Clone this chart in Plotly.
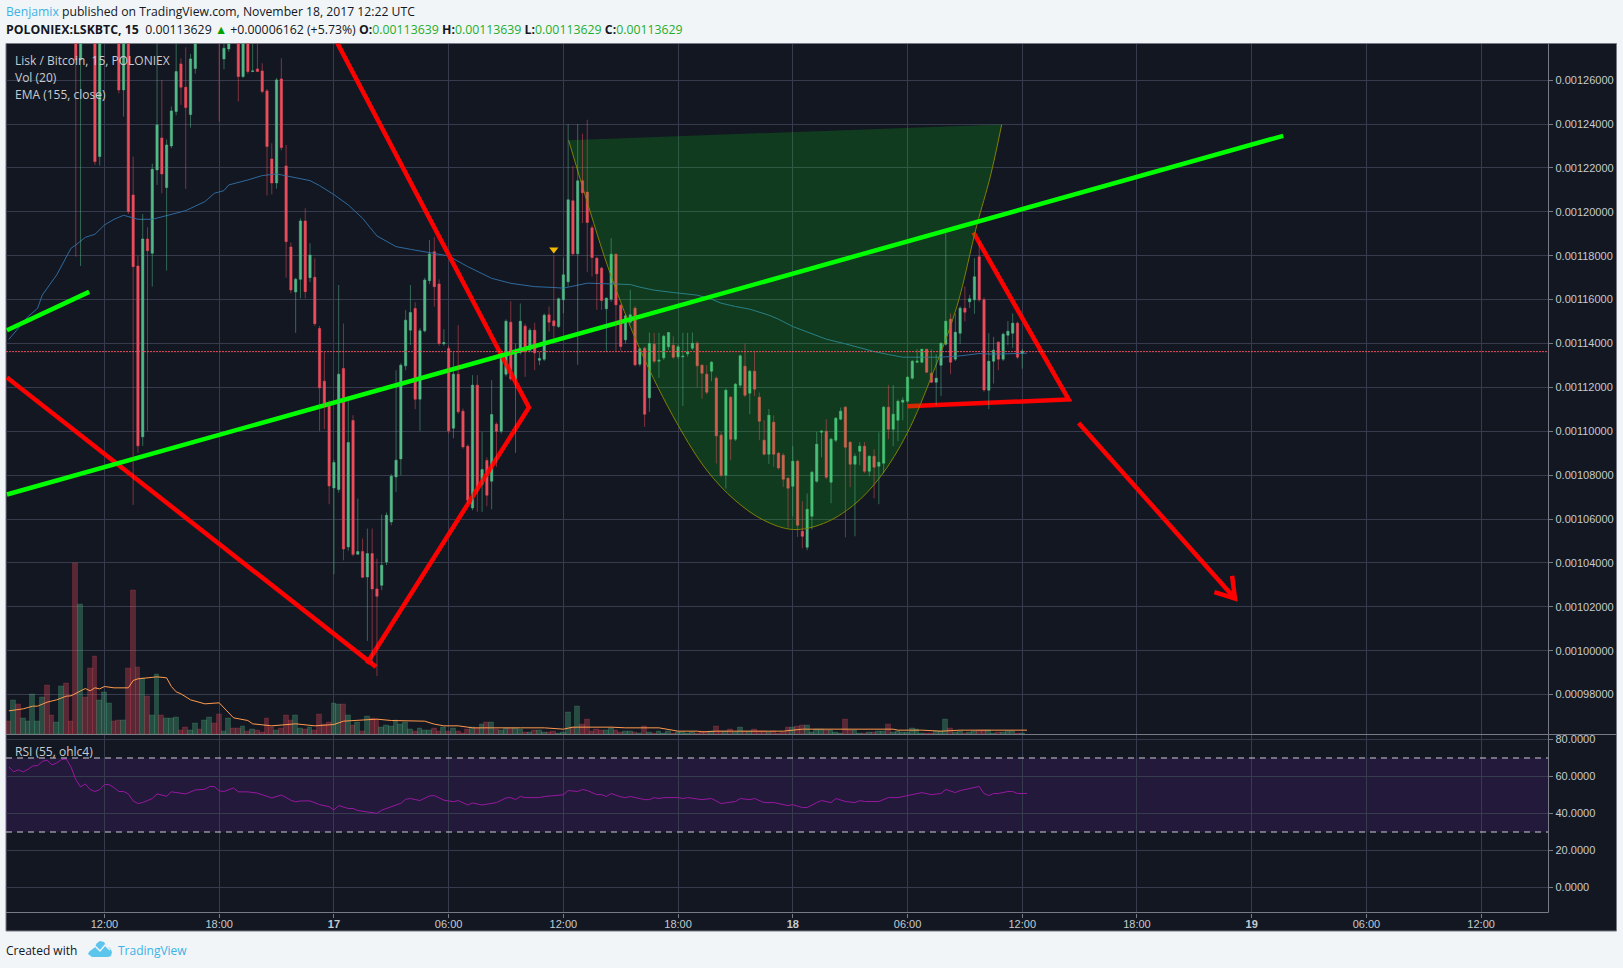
import pandas as pd
import plotly.graph_objects as go

W, H = 1623, 968
# ---------------- candles, in 1e-8 BTC; first bar is 2017-11-16 07:00, 15 min apart
opens = [130200,129800,130500,130000,130400,130700,131300,131600,132200,131300,
130700,131100,131900,131000,129400,126927,129300,128700,128300,122519,
128400,128900,129200,128600,125559,129000,120771,117533,109744,118765,
118111,121911,123370,121105,123005,124571,126745,125681,124434,126532,
128800,128400,129100,129500,129000,126973,127429,128900,128500,126167,
128500,126395,126517,126425,125513,122413,121318,126061,122093,118400,
116349,116925,119585,117001,117017,114684,112282,111294,107418,107342,
112860,104728,110489,104392,104515,103360,104424,102813,102980,104044,
105868,107920,108741,112982,114608,115596,111462,114578,116865,118187,
116713,113985,113772,110139,112602,110914,109318,106506,112100,107586,
108665,107722,110322,110002,112602,114973,112176,113590,114790,113696,
114608,113240,113286,115306,115032,114774,115990,116811,120504,118088,
121416,120900,119273,117890,117434,115580,116020,118072,115747,114166,
114972,115610,113056,113787,111522,113970,113194,113346,113848,113924,
113392,113392,113529,113787,114015,113012,112602,112738,112419,109820,
107996,111553,109638,112100,112966,111735,112738,111553,109592,108954,
110413,108999,108908,107859,107494,108634,105442,104713,106126,107722,
109957,110002,107677,109592,110550,111097,109501,108498,109090,109318,
108178,108862,108406,108543,111097,110094,110504,111325,111370,112419,
113149,113149,113742,112647,112237,113012,113970,115110,113286,114471,
115611,115899,115990,117951,115990,111872,113194,114061,113286,114380,
114471,114927,113559]
highs = [130600,130900,130800,130700,131000,131600,131900,132500,132600,131700,
131400,132200,132300,131400,131000,129600,129700,129100,128800,128900,
129200,129500,129500,129000,129400,129300,122519,118000,119905,119297,
122200,127700,126015,123300,124800,127700,127000,127500,127200,128500,
129300,129500,129800,129800,129500,128000,128500,129200,129000,129000,
129000,128000,128000,126775,125600,123127,126100,127003,123051,118600,
117000,119700,120163,118567,117883,114800,113620,111400,108700,116667,
114912,111416,110732,106932,105108,105564,105564,104196,106202,106300,
108050,112784,113100,115520,116667,115877,114700,117000,118719,118841,
116925,114654,113900,113620,114836,111036,109400,112556,112556,109972,
108800,112328,110400,113450,115100,115930,114000,115824,114900,114700,
114942,113620,115368,115686,118042,116100,117890,124000,122100,124000,
123560,124198,119400,117950,117500,116100,118802,118100,115800,115350,
116446,115700,113800,113850,114502,114486,114486,114400,114520,114334,
113950,114486,114486,114502,114100,113050,113012,113200,112500,109972,
111950,111600,112200,113500,114000,112800,113666,111766,110504,111006,
110732,109050,108999,107900,109318,108700,106810,107160,108200,109972,
110050,110550,109700,110650,111082,111150,109550,108984,109501,109501,
108900,109182,109950,111150,112100,112100,111450,111553,112500,113250,
113742,113750,113750,113742,113514,114050,119030,115368,115368,115700,
116598,116218,117890,118650,116100,114471,114304,114100,114500,115018,
115368,115000,113742]
lows = [129500,129500,129700,129800,130100,130400,131000,131200,131000,130400,
130400,130800,130600,128800,117959,117533,128300,128000,122139,122109,
128100,128600,128400,125400,124343,119900,106643,109014,109334,110002,
116591,121227,120847,117321,122900,124400,124875,121045,123841,126300,
128100,128100,128700,128400,124115,126501,127300,128000,125027,126100,
126300,126380,126380,125400,120741,120801,121060,122800,117001,116287,
114486,116059,116059,116800,114800,110018,110094,106674,103482,107200,
104120,104546,104300,104380,103314,100444,99414,98835,102756,103900,
105716,107236,107996,112784,113924,111006,110018,114500,116700,115679,
113900,113900,109900,109683,110800,109200,106700,106400,106324,106324,
106582,106446,108376,109900,112500,112300,109014,113500,112480,113600,
112784,113012,113200,114546,114242,114700,115382,116598,118000,113026,
119486,117267,117054,115534,115534,113634,115900,113634,113680,114000,
114900,112950,112950,110200,110884,113100,112434,113250,113700,113300,
113300,111158,113400,113700,111994,111477,111690,112282,108528,107920,
107388,108680,109550,112000,111550,110778,111598,109592,108900,108513,
108376,108250,107464,105610,106126,105184,104667,104576,105518,107650,
108817,107814,106719,109500,110500,105169,107449,105214,108452,108100,
107950,106947,106674,108087,109638,109318,109546,110504,111300,112350,
113100,113100,112650,112200,111188,111598,113900,112602,113200,113970,
115002,115610,115352,115900,111800,111006,112176,112784,113200,113924,
113787,113300,112851]
closes = [129800,130500,130000,130400,130700,131300,131600,132200,131300,130700,
131100,131900,131000,129400,126927,129300,128700,128300,122291,128400,
128900,129200,128600,125559,129000,120011,117503,109334,118765,118233,
121941,123963,121729,123051,124601,126395,125681,124753,126973,127900,
128400,129100,129500,128700,128000,127459,128000,128400,126167,128500,
126395,126425,126395,125483,122975,121318,126015,122929,118643,116439,
116925,119585,116363,118035,114904,111978,111294,107510,108574,112602,
104636,109486,104392,104515,103345,104424,102813,102480,103892,106172,
107950,108680,113012,115064,115414,111462,114578,116895,118081,116591,
114000,114046,110018,112602,110884,109288,106856,112100,107312,108254,
107084,110762,110002,113346,115018,112389,113590,115018,113620,114608,
113574,113316,115292,114972,114804,116036,117130,120550,118088,121416,
120869,119516,117920,117176,115960,116066,118072,115762,113862,115260,
115306,113026,113756,110778,114000,113194,113240,114334,114502,113377,
113848,113422,113620,114015,112982,112647,111781,113149,109790,107996,
111872,109638,112146,113438,111644,112738,111918,110458,108954,110732,
108954,108330,107814,107403,108634,105716,105214,106446,108133,109410,
110002,107905,109638,110595,110914,109273,108498,108862,109318,108178,
108862,108361,108589,111097,110094,110778,111370,111416,112465,113194,
113194,113742,112693,112237,112419,114015,115018,113149,114517,115611,
115429,116036,117039,115990,111886,113194,113696,113286,114426,114562,
114927,113377,113650]
# volume, arbitrary units, same bars
volumes = [38,102,90,47,38,119,38,111,146,57,35,144,152,38,512,390,111,198,233,102,
125,92,38,42,42,198,432,200,167,114,57,179,57,47,47,50,11,20,11,32,
14,41,50,34,60,8,47,17,17,23,8,14,11,5,47,20,11,17,57,41,
56,17,14,20,11,60,29,35,92,89,89,56,27,35,8,53,47,44,20,26,
23,42,29,35,14,8,17,11,11,17,8,20,8,17,8,2,14,20,17,29,
35,35,14,11,19,19,19,14,6,6,12,12,6,6,9,2,6,66,22,84,
30,45,9,15,12,12,18,12,6,9,9,6,3,23,6,2,9,3,9,3,
6,6,3,6,3,8,6,9,24,9,9,15,6,21,9,9,15,9,9,6,
9,3,6,21,21,24,27,27,6,15,15,12,12,6,3,45,12,12,3,3,
6,6,9,9,30,6,9,6,6,18,15,3,2,3,9,9,45,18,6,9,
3,6,9,12,12,12,3,6,6,9,9,3,3]
# bar numbers count 15-minute steps from 2017-11-16 12:00
first_bar = -20
ema_bars = [-20,-18,-16,-14,-13,-10,-7,-6,-4,-2,0,2,4,7,10,13,17,21,23,25,26,30,33,36,40,43,45,48,51,54,57,61,64,68,72,76,81,85,90,94,96,101,107,110,112,115,119,124,127,129,132,135,139,141,144,148,151,155,158,161,164,167,171,175,179,183,186,189,193]
ema_values = [114189,114691,115223,115603,116211,117123,118339,118491,118841,118977,119403,119661,119844,119661,119661,119829,120057,120467,120847,120969,121227,121455,121653,121729,121561,121425,121197,120786,120315,119707,118902,118415,118293,118157,117989,117503,116971,116743,116591,116552,116522,116750,116720,116689,116568,116431,116324,116203,116020,115838,115686,115564,115291,115108,114774,114440,114196,113984,113801,113634,113497,113376,113376,113376,113436,113543,113512,113543,113558]
volma_bars = [-20,-17,-15,-14,-12,-10,-8,-7,-4,-3,-2,-1,0,2,5,6,7,9,11,13,14,15,16,18,21,24,26,27,30,31,35,37,40,44,48,50,53,57,60,67,69,71,74,77,87,92,96,98,106,109,116,120,124,125,128,142,146,154,165,166,171,175,179,193]
volma_values = [71,77,85,85,97,104,115,116,138,131,140,137,144,140,140,162,167,170,173,170,144,128,122,104,92,95,65,50,42,32,26,28,32,26,30,40,42,46,42,40,31,26,26,20,20,20,16,22,22,20,20,10,10,8,10,10,16,16,16,13,13,10,13,13]
rsi_bars = [-20,-19,-18,-17,-16,-15,-14,-13,-12,-11,-10,-9,-8,-7,-6,-5,-4,-3,-2,-1,0,1,2,3,4,5,6,7,8,10,11,13,14,17,19,21,22,23,24,25,27,28,30,32,35,37,39,40,41,43,45,47,48,49,51,52,53,55,57,58,62,63,64,66,68,69,71,73,74,76,77,79,82,84,85,86,87,88,91,92,94,96,97,99,100,101,103,104,105,106,108,109,110,113,114,115,116,117,120,121,122,125,127,129,132,133,135,136,138,140,143,144,146,147,149,150,152,153,155,157,158,159,162,164,166,169,171,173,175,176,178,179,183,184,185,186,187,189,190,191,193]
rsi_values = [65.2,62.5,63.6,62.5,63.9,65.7,65.9,68.2,68.8,66.3,67.3,69.1,69.5,65.2,58.3,54.4,56.0,52.9,51.9,52.9,55.6,55.6,54.0,51.9,51.9,50.6,46.8,45.4,45.9,48.1,50.6,49.3,51.7,50.6,52.7,53.1,54.6,54.6,52.2,51.9,53.8,51.7,51.7,51.0,48.4,50.0,47.2,46.3,46.8,46.8,44.8,43.7,41.9,44.3,42.7,42.7,41.6,41.0,40.1,41.8,45.5,47.7,48.1,47.0,49.5,49.7,47.2,46.4,47.0,44.6,45.7,44.6,45.9,48.4,48.6,47.5,49.2,48.6,48.6,49.2,49.7,50.1,52.4,51.9,53.0,52.4,50.2,50.2,49.2,50.8,49.0,48.6,49.2,47.5,47.5,48.6,48.1,48.6,48.6,48.1,48.6,47.5,48.1,45.4,46.5,48.1,47.5,48.1,45.9,45.9,44.3,44.8,43.2,43.2,45.9,47.0,45.9,48.1,46.5,45.9,47.0,46.5,46.5,48.6,48.6,50.1,51.3,50.2,50.8,53.0,51.3,52.4,54.6,50.8,49.7,50.8,50.8,51.9,51.9,50.8,50.8]
# chart drawings: (bar number, price) corners
trend_long_bars, trend_long_prices = [-20.4,246.6], [107117,123467]
trend_short_bars, trend_short_prices = [-20.4,-3.2], [114606,116352]
wedge_left_bars, wedge_left_prices = [-20.4,56.8], [112450,99260]
wedge_right_bars, wedge_right_prices = [54.9,88.8,47.3], [99414,111083,128280]
tri_bars, tri_prices = [181.8,201.7,167.9], [119059,111448,111142]
arrow_bars, arrow_prices = [203.8,236.5], [110381,102377]
arrow_head_bars, arrow_head_prices = [235.9,236.5,232.2], [103408,102377,102664]
cup_bars = [97.1,101.3,105.8,112.1,119.8,126.0,131.9,137.9,144.1,150.4,156.7,162.3,167.9,173.4,178.3,182.5,185.3,187.7]
cup_prices = [123266,120226,117191,113695,110354,108225,106858,105946,105522,105796,106630,107920,109898,112706,115668,119392,121594,123982]
flag_bar, flag_price = 94, 118280
last_price = 113629

price_ticks = list(range(98000, 126001, 2000))
rsi_ticks = [0,20,40,60,80]
x_tick_bars = [0,24,48,72,96,120,144,168,192,216,240,264,288]
x_tick_text = ['12:00','18:00','<b>17</b>','06:00','12:00','18:00','<b>18</b>','06:00','12:00','18:00','<b>19</b>','06:00','12:00']

assert all(len(a)==213 for a in (opens,highs,lows,closes,volumes))
assert len(ema_bars)==len(ema_values) and len(volma_bars)==len(volma_values) and len(rsi_bars)==len(rsi_values)

BASE = pd.Timestamp('2017-11-16 12:00')
def d(n):
    return (BASE + pd.Timedelta(minutes=15*n)).strftime('%Y-%m-%d %H:%M:%S.%f')[:-3]
def ds(ns): return [d(n) for n in ns]
def pr(vs): return [v*1e-8 for v in vs]

bars = [first_bar+i for i in range(213)]
dates = ds(bars)
UP, DOWN = '#53b987', '#eb4d5c'
BG, GRID, AXIS, LABEL = '#131722', '#363c4e', '#787b86', '#c5cbce'
RED, GREEN = '#ff0000', '#00ff00'
TXT = 'Open Sans'

def wicks(is_up):
    xs, ys = [], []
    for t,o,h,l,c in zip(dates,opens,highs,lows,closes):
        if (c>=o)==is_up:
            xs += [t,t,None]; ys += [h*1e-8,l*1e-8,None]
    return xs, ys

fig = go.Figure()
def line(x, y, color, width, **kw):
    fig.add_trace(go.Scatter(x=ds(x), y=pr(y), mode='lines', line=dict(color=color,width=width),
                             hoverinfo='skip', showlegend=False, **kw))

# drawing order follows the reference: EMA and red drawings, cup, trend lines, then the candles on top
line(ema_bars, ema_values, '#2f6a9e', 1)
line(wedge_left_bars, wedge_left_prices, RED, 4.5)
line(wedge_right_bars, wedge_right_prices, RED, 4.5)
line(tri_bars, tri_prices, RED, 4.5)
line(arrow_bars, arrow_prices, RED, 4.5)
line(arrow_head_bars, arrow_head_prices, RED, 4.5)
fig.add_trace(go.Scatter(x=ds(cup_bars),y=pr(cup_prices),mode='lines',fill='toself',fillcolor='rgba(5,250,15,0.16)',
    line=dict(width=0,shape='spline',color='rgba(0,0,0,0)'),hoverinfo='skip',showlegend=False))
fig.add_trace(go.Scatter(x=ds(cup_bars),y=pr(cup_prices),mode='lines',line=dict(color='#808000',width=1,shape='spline'),hoverinfo='skip',showlegend=False))
line(trend_long_bars, trend_long_prices, GREEN, 4.5)
line(trend_short_bars, trend_short_prices, GREEN, 4.5)

for is_up,col in ((True,'rgba(83,185,135,0.5)'),(False,'rgba(235,77,92,0.5)')):
    xs,ys = wicks(is_up)
    fig.add_trace(go.Scatter(x=xs,y=ys,mode='lines',line=dict(color=col,width=1),connectgaps=False,hoverinfo='skip',showlegend=False))
fig.add_trace(go.Candlestick(x=dates,open=pr(opens),high=[max(o,c)*1e-8 for o,c in zip(opens,closes)],
    low=[min(o,c)*1e-8 for o,c in zip(opens,closes)],close=pr(closes),
    increasing=dict(line=dict(color=UP,width=0.5),fillcolor=UP),
    decreasing=dict(line=dict(color=DOWN,width=0.5),fillcolor=DOWN),
    hoverinfo='skip',showlegend=False))
fig.add_trace(go.Scatter(x=[d(flag_bar)],y=[flag_price*1e-8],mode='markers',marker=dict(symbol='triangle-down',size=8,color='#f5b800'),hoverinfo='skip',showlegend=False))

# volume pane overlay
vol_colors = ['rgba(83,185,135,0.33)' if c>=o else 'rgba(235,77,92,0.33)' for o,c in zip(opens,closes)]
vol_edges = ['rgba(83,185,135,0.2)' if c>=o else 'rgba(235,77,92,0.2)' for o,c in zip(opens,closes)]
fig.add_trace(go.Bar(x=dates,y=volumes,yaxis='y3',marker=dict(color=vol_colors,line=dict(color=vol_edges,width=1)),hoverinfo='skip',showlegend=False))
fig.add_trace(go.Scatter(x=ds(volma_bars),y=volma_values,yaxis='y3',mode='lines',line=dict(color='#ff9a4d',width=1),hoverinfo='skip',showlegend=False))
# RSI pane
fig.add_trace(go.Scatter(x=ds(rsi_bars),y=rsi_values,xaxis='x2',yaxis='y2',mode='lines',line=dict(color='#98189f',width=1),hoverinfo='skip',showlegend=False))

def px(x): return x/W
def py(y): return 1-y/H
def paper_rect(x0,y0,x1,y1,**kw):
    return dict(type='rect',xref='paper',yref='paper',x0=px(x0),x1=px(x1),y0=py(y0),y1=py(y1),**kw)
def paper_line(x0,y0,x1,y1,color=AXIS):
    return dict(type='line',xref='paper',yref='paper',x0=px(x0),x1=px(x1),y0=py(y0),y1=py(y1),line=dict(color=color,width=1),layer='above')
def poly(pts):
    return 'M '+' L '.join(f'{px(a):.5f},{py(b):.5f}' for a,b in pts)+' Z'

DASH = '#d0ccd4'
shapes = [
    paper_rect(6,43.5,1616.5,931,fillcolor=BG,line=dict(color=AXIS,width=1),layer='below'),
    dict(type='rect',xref='x2 domain',yref='y2',x0=0,x1=1,y0=30,y1=70,fillcolor='rgba(142,38,234,0.13)',line=dict(width=0),layer='below'),
    dict(type='line',xref='x2 domain',yref='y2',x0=0,x1=1,y0=70,y1=70,line=dict(color=DASH,width=1,dash='6px,5px'),layer='above'),
    dict(type='line',xref='x2 domain',yref='y2',x0=0,x1=1,y0=30,y1=30,line=dict(color=DASH,width=1,dash='6px,5px'),layer='above'),
    dict(type='line',xref='x domain',yref='y',x0=0,x1=1,y0=last_price*1e-8,y1=last_price*1e-8,line=dict(color='#eb4d5c',width=1,dash='2px,1px'),layer='above'),
    paper_line(6,734.5,1616.5,734.5),
    paper_line(6,912.5,1548.5,912.5),
    paper_line(1548.5,43.5,1548.5,912.5),
    dict(type='path',xref='paper',yref='paper',path=poly([(88,954),(90,950),(94,948),(97,943),(100,941),(104,942),(107,947),(110,948),(112,952),(111,956),(108,957),(92,957)]),fillcolor='#5cc5ec',line=dict(width=0),layer='above'),
    dict(type='path',xref='paper',yref='paper',path='M '+' L '.join(f'{px(a):.5f},{py(b):.5f}' for a,b in [(89,951),(95,946),(100,951),(105,945),(110,950)]),line=dict(color='#f1f5f8',width=1.5),layer='above'),
]

def note(x,y,text,size=12,color='#131722',family=TXT):
    return dict(xref='paper',yref='paper',x=px(x),y=py(y),xanchor='left',yanchor='middle',showarrow=False,
                text=text,align='left',font=dict(family=family,size=size,color=color))
G = '#1fae2e'
def g(t): return f'<span style="color:{G}">{t}</span>'
annotations = [
    note(4,11.5,'<span style="color:#3bb3e4">Benjamix</span> published on TradingView.com, November 18, 2017 12:22 UTC',size=12.2),
    note(4,29.5,f'<b>POLONIEX:LSKBTC, 15</b>  0.00113629 <span style="color:#00a000">▲</span> +0.00006162 (+5.73%) <b>O:</b>{g("0.00113639")} <b>H:</b>{g("0.00113639")} <b>L:</b>{g("0.00113629")} <b>C:</b>{g("0.00113629")}',size=12.3),
    note(13,60.5,'Lisk / Bitcoin, 15, POLONIEX',color='#c8ccd0'),
    note(13,77.5,'Vol (20)',color='#c8ccd0'),
    note(13,94.5,'EMA (155, close)',color='#c8ccd0'),
    note(13,751.5,'RSI (55, ohlc4)',color='#c8ccd0'),
    note(4,950,'Created with',color='#131722'),
    note(116,950,'TradingView',color='#3bb3e4'),
]

xbase = dict(type='date',range=[d(-20.6),d(302.05)],domain=[px(6),px(1548.3)],
             tickmode='array',tickvals=ds(x_tick_bars),showgrid=True,gridcolor=GRID,gridwidth=1,
             zeroline=False,showline=False)
fig.update_layout(
    width=W,height=H,autosize=False,margin=dict(l=0,r=0,t=0,b=0),showlegend=False,
    paper_bgcolor='#f1f5f8',plot_bgcolor='rgba(0,0,0,0)',bargap=0,shapes=shapes,annotations=annotations,
    font=dict(family='Liberation Sans',size=11,color=LABEL),
    xaxis=dict(**xbase,anchor='y',showticklabels=False,ticks='',rangeslider=dict(visible=False)),
    xaxis2=dict(**xbase,anchor='y2',matches='x',ticktext=x_tick_text,ticks='outside',ticklen=4,tickcolor=AXIS,ticklabelstandoff=-3,
                tickfont=dict(family='Liberation Sans',size=11,color=LABEL)),
    yaxis=dict(domain=[py(734.5),py(43.5)],range=[96178e-8,127674e-8],side='right',anchor='x',tickmode='array',
               tickvals=pr(price_ticks),tickformat='.8f',showgrid=True,gridcolor=GRID,zeroline=False,
               ticks='outside',ticklen=4,tickcolor=AXIS,tickfont=dict(family='Liberation Sans',size=11,color=LABEL)),
    yaxis2=dict(domain=[py(912.5),py(734.5)],range=[-13.5,82.7],side='right',anchor='x2',tickmode='array',
               tickvals=rsi_ticks,tickformat='.4f',showgrid=True,gridcolor=GRID,zeroline=False,
               ticks='outside',ticklen=4,tickcolor=AXIS,tickfont=dict(family='Liberation Sans',size=11,color=LABEL)),
    yaxis3=dict(domain=[py(734.5),py(43.5)],range=[0,2073],overlaying='y',side='right',anchor='x',showgrid=False,
               showticklabels=False,ticks='',zeroline=False),
)
fig.write_html('out.html',config=dict(displayModeBar=False),post_script="document.body.style.margin='0';document.body.style.overflow='hidden';")
